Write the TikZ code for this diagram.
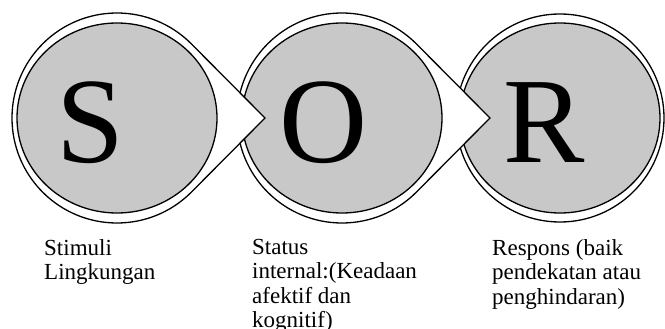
\documentclass[tikz,border=0pt]{standalone}
\usepackage{fontspec}
\setmainfont{Liberation Serif}
\definecolor{diskgray}{RGB}{200,200,200}
\begin{document}
\begin{tikzpicture}[x=1pt,y=-1pt,
    outline/.style={draw=black,line width=1.3pt,fill=white,line join=miter},
    disk/.style={draw=black,line width=1.3pt,fill=diskgray},
    letter/.style={anchor=base,inner sep=0pt,font=\fontsize{122}{122}\selectfont},
    caption/.style={anchor=north west,inner sep=0pt,align=left,
      font=\fontsize{23}{24.5}\selectfont}]
  \useasboundingbox (0,0) rectangle (665,329);
  % centres of the three stages
  \coordinate (cS) at (117,118);
  \coordinate (cO) at (342,118);
  \coordinate (cR) at (560,118);
  % pointer tips
  \coordinate (tS) at (265,118);
  \coordinate (tO) at (490,118);

  % R: outer ring and disk
  \draw[outline] (cR) circle[radius=104];
  \draw[disk] (cR) ellipse[x radius=100,y radius=95];
  % O: outer ring with pointer, then disk
  \draw[outline] (cO) ++(45:105) arc[start angle=45,end angle=315,radius=105]
    -- (tO) -- cycle;
  \draw[disk] (cO) ellipse[x radius=100,y radius=95];
  % S: outer ring with pointer, then disk
  \draw[outline] (cS) ++(45:105) arc[start angle=45,end angle=315,radius=105]
    -- (tS) -- cycle;
  \draw[disk] (cS) ellipse[x radius=100,y radius=95];

  % big letters
  \node[letter] (S) at (90.5,162) {S};
  \node[letter] (O) at (323.5,162) {O};
  \node[letter] (R) at (544,162) {R};

  % captions
  \node[caption] (capS) at (44,239) {Stimuli\\Lingkungan};
  \node[caption] (capO) at (252,239) {Status\\internal:(Keadaan\\afektif dan\\kognitif)};
  \node[caption] (capR) at (492,239) {Respons (baik\\pendekatan atau\\penghindaran)};
\end{tikzpicture}
\end{document}
